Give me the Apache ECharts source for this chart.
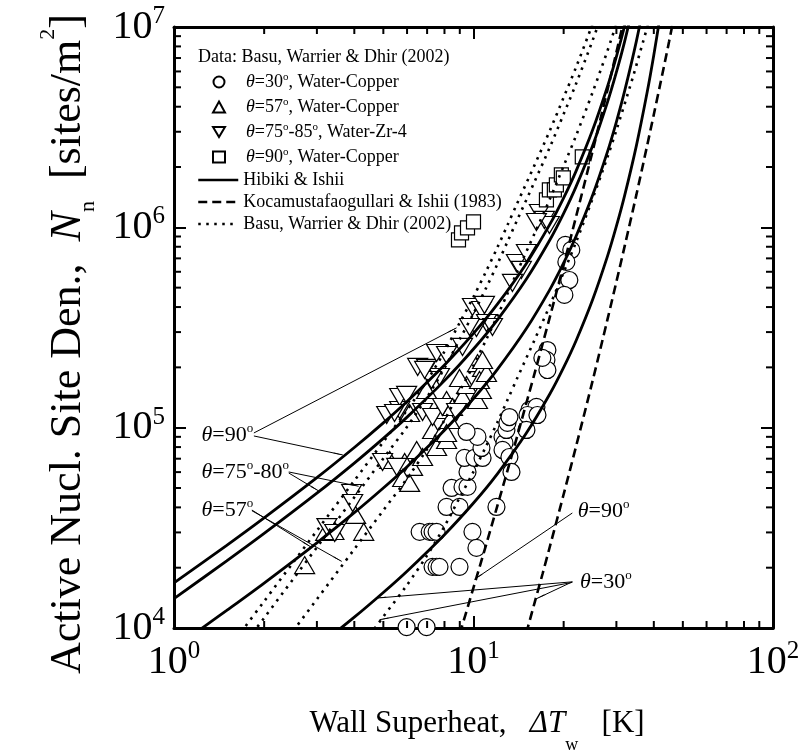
<!DOCTYPE html>
<html>
<head>
<meta charset="utf-8">
<script src="https://cdn.jsdelivr.net/npm/echarts@6/dist/echarts.min.js"></script>
<style>html,body{margin:0;padding:0;background:#fff}#c{width:805px;height:752px}</style>
</head>
<body>
<div id="c"></div>
<script>
const FONT = '"Liberation Serif", "Times New Roman", Times, serif';

// ---------- axes ----------
const X_MIN = 1, X_MAX = 100, Y_MIN = 1e4, Y_MAX = 1e7;
const xTickValues = [1, 10, 100];
const xTickSups = ['0', '1', '2'];
const yTickValues = [1e4, 1e5, 1e6, 1e7];
const yTickSups = ['4', '5', '6', '7'];
const xMinorTicks = [2, 3, 4, 5, 6, 7, 8, 9, 20, 30, 40, 50, 60, 70, 80, 90];
const yMinorTicks = [2e4, 3e4, 4e4, 5e4, 6e4, 7e4, 8e4, 9e4,
                     2e5, 3e5, 4e5, 5e5, 6e5, 7e5, 8e5, 9e5,
                     2e6, 3e6, 4e6, 5e6, 6e6, 7e6, 8e6, 9e6];

// ---------- names ----------
const dataTitle = 'Data: Basu, Warrier & Dhir (2002)';
const scatterNames = ['θ=30°, Water-Copper', 'θ=57°, Water-Copper', 'θ=75°-85°, Water-Zr-4', 'θ=90°, Water-Copper'];
const lineNames = ['Hibiki & Ishii', 'Kocamustafaogullari & Ishii (1983)', 'Basu, Warrier & Dhir (2002)'];

// ---------- data: measurements ----------
const circles30 = [
  [5.98,1.01e4],[6.97,1.01e4],
  [7.30,2.02e4],[7.53,2.02e4],[7.70,2.02e4],[8.98,2.02e4],
  [6.61,3.02e4],[7.14,3.02e4],[7.30,3.02e4],[7.53,3.02e4],[9.92,3.02e4],[10.23,2.51e4],
  [8.13,4.02e4],[8.98,4.02e4],[11.93,4.02e4],
  [8.45,5.0e4],[9.19,5.06e4],[9.55,5.06e4],[9.55,6.01e4],
  [9.33,7.06e4],[10.08,7.06e4],[10.72,7.06e4],[10.63,7.92e4],[10.31,8.99e4],[9.48,9.52e4],
  [12.50,8.99e4],[12.69,8.39e4],[12.50,7.74e4],[13.18,7.14e4],[13.39,6.01e4],
  [12.88,9.74e4],[12.98,1.056e5],[13.18,1.13e5],
  [15.37,1.226e5],[16.22,1.269e5],[15.14,1.157e5],[15.02,9.74e4],[16.35,1.157e5],
  [17.65,2.44e5],[17.52,2.18e5],[17.65,1.94e5],[16.98,2.23e5],
  [20.26,8.17e5],[21.21,7.71e5],[20.42,6.72e5],[20.89,5.46e5],[20.11,4.6e5]
];
const triUp57 = [
  [2.73,2.06e4],[3.21,3.02e4],[3.42,3.05e4],[4.04,3.67e4],[4.30,3.02e4],
  [5.25,6.90e4],[5.89,6.74e4],[6.26,6.37e4],[5.80,5.61e4],[6.46,7.74e4],[6.12,5.30e4],[6.76,7.14e4],
  [7.30,9.74e4],[7.53,8.01e4],[7.82,9.41e4],[8.13,8.68e4],[8.13,1.375e5],[7.88,1.226e5],[8.32,1.093e5],[8.13,9.41e4],[8.51,1.269e5],
  [9.19,1.423e5],[9.48,1.634e5],[10.31,1.375e5],[10.63,1.543e5],[10.31,2.10e5],[10.72,1.987e5],[10.47,1.73e5],[11.05,1.876e5],[10.72,2.178e5],
  [8.98,1.771e5],[6.97,1.543e5],[6.12,1.184e5]
];
const triDown75 = [
  [3.92,4.72e4],[3.95,4.21e4],[3.24,3.19e4],[3.44,2.98e4],[4.97,6.74e4],[5.54,6.37e4],
  [5.13,1.157e5],[5.67,1.226e5],[5.67,1.423e5],[5.45,1.184e5],[6.76,1.198e5],[7.30,1.13e5],[7.88,1.269e5],[8.78,1.198e5],
  [6.51,2.01e5],[6.97,1.987e5],[7.53,2.36e5],[8.13,2.307e5],[7.70,1.791e5],[7.24,1.73e5],[9.19,2.53e5],
  [9.92,4.0e5],[10.63,3.87e5],[11.05,3.33e5],[11.57,3.18e5],[10.23,3.146e5],[10.88,4.1e5],[9.70,3.18e5],
  [13.91,6.64e5],[14.45,6.13e5],[13.49,5.28e5],[15.02,7.45e5],[6.87,1.942e5],[5.98,1.457e5],
  [16.60,1.18e6],[17.25,1.089e6],[17.92,1.028e6],[16.22,1.064e6]
];
const squares90 = [
  [8.91,8.65e5],[9.12,9.38e5],[9.55,9.93e5],[10.0,1.064e6],
  [17.52,1.37e6],[17.92,1.537e6],[18.62,1.537e6],[18.91,1.628e6],[19.65,1.827e6],[19.95,1.765e6],[23.08,2.246e6]
];

// ---------- data: correlations ----------
const hibiki90 = [[1,1.678e4],[1.5,2.587e4],[2,3.547e4],[3,5.631e4],[4,7.961e4],[5,1.057e5],[6,1.351e5],[8,2.054e5],[10,2.955e5],[12,4.122e5],[15,6.585e5],[18,1.037e6],[20,1.404e6],[22,1.909e6],[25,3.066e6],[28,5.032e6],[30,7.115e6],[32,1.020e7],[35,1.803e7]];
const hibiki80 = [[1,1.403e4],[1.5,2.162e4],[2,2.964e4],[3,4.707e4],[4,6.654e4],[5,8.839e4],[6,1.129e5],[8,1.717e5],[10,2.470e5],[12,3.445e5],[15,5.504e5],[18,8.667e5],[20,1.174e6],[22,1.596e6],[25,2.562e6],[28,4.206e6],[30,5.947e6],[32,8.526e6],[35,1.507e7]];
const hibiki57 = [[1.2,9.63e3],[1.5,1.224e4],[2,1.677e4],[3,2.663e4],[4,3.765e4],[5,5.001e4],[6,6.389e4],[8,9.717e4],[10,1.398e5],[12,1.949e5],[15,3.114e5],[18,4.904e5],[20,6.642e5],[22,9.030e5],[25,1.450e6],[28,2.380e6],[30,3.365e6],[32,4.825e6],[35,8.528e6],[38,1.568e7]];
const hibiki30 = [[3,8.01e3],[4,1.133e4],[5,1.505e4],[6,1.922e4],[8,2.924e4],[10,4.206e4],[12,5.866e4],[15,9.371e4],[18,1.476e5],[20,1.999e5],[22,2.717e5],[25,4.363e5],[28,7.161e5],[30,1.013e6],[32,1.452e6],[35,2.566e6],[38,4.719e6],[40,7.251e6],[42,1.136e7]];
const koca90 = [[9,9.36e3],[10,1.59e4],[11,2.58e4],[12,4.05e4],[13,6.14e4],[14,9.10e4],[15,1.32e5],[16,1.87e5],[17,2.61e5],[18,3.58e5],[20,6.50e5],[22,1.13e6],[25,2.41e6],[28,4.84e6],[30,7.48e6],[32,1.13e7]];
const koca30 = [[15,9.41e3],[16,1.34e4],[17,1.86e4],[18,2.56e4],[20,4.65e4],[22,8.06e4],[25,1.72e5],[28,3.46e5],[30,5.35e5],[32,8.10e5],[35,1.46e6],[38,2.56e6],[40,3.66e6],[42,5.16e6],[45,8.49e6],[50,1.87e7]];
const basu90 = [[1.5,7.65e3],[1.7,9.83e3],[2,1.36e4],[2.5,2.125e4],[3,3.06e4],[4,5.44e4],[5,8.5e4],[6,1.224e5],[7,1.72e5],[8,2.40e5],[9,3.35e5],[10,4.5e5],[11,6.0e5],[12,7.9e5],[13,1.03e6],[14,1.32e6],[16,2.05e6],[18,3.05e6],[20,4.45e6],[22,6.3e6],[25,1.04e7],[28,1.67e7]];
const basu80 = [[1.7,8.12e3],[2,1.123e4],[2.5,1.755e4],[3,2.528e4],[4,4.49e4],[5,7.02e4],[6,1.011e5],[7,1.421e5],[8,1.982e5],[9,2.767e5],[10,3.717e5],[11,4.956e5],[12,6.525e5],[13,8.51e5],[14,1.090e6],[16,1.693e6],[18,2.519e6],[20,3.676e6],[22,5.204e6],[25,8.59e6],[28,1.379e7]];
const basu57 = [[2.5,9.67e3],[3,1.392e4],[4,2.475e4],[5,3.868e4],[6,5.57e4],[7,7.83e4],[8,1.092e5],[9,1.524e5],[10,2.048e5],[11,2.73e5],[12,3.595e5],[13,4.687e5],[14,6.01e5],[16,9.33e5],[18,1.388e6],[20,2.025e6],[22,2.867e6],[25,4.73e6],[28,7.60e6],[30,1.037e7]];
const basu30 = [[4.5,9.2e3],[5,1.139e4],[6,1.640e4],[7,2.305e4],[8,3.216e4],[9,4.489e4],[10,6.03e4],[11,8.04e4],[12,1.059e5],[13,1.380e5],[14,1.769e5],[16,2.747e5],[18,4.087e5],[20,5.963e5],[22,8.44e5],[25,1.394e6],[28,2.238e6],[30,3.055e6],[34,5.574e6],[37,8.65e6],[40,1.297e7]];

// ---------- annotations (data coordinates) ----------
const annotLabels = [
  { text: 'θ=90°', at: [1.23, 9.2e4] },
  { text: 'θ=75°-80°', at: [1.23, 6.01e4] },
  { text: 'θ=57°', at: [1.23, 3.88e4] },
  { text: 'θ=90°', at: [22.2, 3.84e4] },
  { text: 'θ=30°', at: [22.6, 1.70e4] }
];
const annotArrows = [
  [[1.848, 9.41e4], [8.78, 3.15e5]],
  [[1.848, 9.09e4], [3.66, 7.31e4]],
  [[2.416, 6.01e4], [4.136, 5.1e4]],
  [[2.416, 5.94e4], [3.043, 4.83e4]],
  [[1.820, 3.88e4], [2.862, 2.54e4]],
  [[1.820, 3.85e4], [3.631, 2.15e4]],
  [[21.38, 3.75e4], [10.08, 1.75e4]],
  [[21.38, 1.70e4], [16.22, 1.40e4]],
  [[21.38, 1.70e4], [4.75, 1.41e4]],
  [[21.38, 1.69e4], [4.86, 1.10e4]]
];

// ---------- helpers ----------
function greek(s) { return s.replace(/θ/g, '{i|θ}').replace(/°/g, '{s|o}'); }
function tickLabel(values, sups) {
  return function (v) {
    for (let i = 0; i < values.length; i++) {
      if (Math.abs(Math.log10(v) - Math.log10(values[i])) < 1e-6) return '{b|10}{s|' + sups[i] + '}';
    }
    return '';
  };
}
const tickRich = {
  b: { fontSize: 40, fontFamily: FONT, color: '#000', lineHeight: 46 },
  s: { fontSize: 25, fontFamily: FONT, color: '#000', lineHeight: 25, verticalAlign: 'top' }
};
const axisLineStyle = { show: true, onZero: false, lineStyle: { color: '#000', width: 3 } };
const majorTick = { show: true, inside: true, length: 12, lineStyle: { color: '#000', width: 2 } };
const MINOR_LEN = 7;

function curve(name, data, type) {
  return {
    type: 'line', name: name, data: data, symbol: 'none', showSymbol: false,
    smooth: 0.3, silent: true, z: 4, clip: true, color: '#000',
    itemStyle: { color: '#000' },
    lineStyle: { color: '#000', width: type === 'solid' ? 2.8 : 2.6, type: type }
  };
}
function pts(name, data, symbol, size) {
  return {
    type: 'scatter', name: name, data: data, symbol: symbol, symbolSize: size, z: 3, silent: true,
    itemStyle: { color: '#fff', borderColor: '#000', borderWidth: 1.2, opacity: 1 }
  };
}
const DOWN_TRI = 'path://M0,0L20,0L10,17Z';
const DASH = [9, 5];
const DOT = [2.5, 5.5];

const chart = echarts.init(document.getElementById('c'), null, { renderer: 'canvas' });
const option = {
  animation: false,
  backgroundColor: '#fff',
  textStyle: { fontFamily: FONT, color: '#000' },
  grid: { left: 174, right: 32, top: 27, bottom: 124, containLabel: false },
  xAxis: [
    { type: 'log', logBase: 10, min: X_MIN, max: X_MAX, position: 'bottom',
      axisLine: axisLineStyle, axisTick: majorTick, splitLine: { show: false },
      axisLabel: { margin: 11, formatter: tickLabel(xTickValues, xTickSups), rich: tickRich } },
    { type: 'log', logBase: 10, min: X_MIN, max: X_MAX, position: 'top',
      axisLine: axisLineStyle, axisTick: majorTick, splitLine: { show: false }, axisLabel: { show: false } }
  ],
  yAxis: [
    { type: 'log', logBase: 10, min: Y_MIN, max: Y_MAX, position: 'left',
      axisLine: axisLineStyle, axisTick: majorTick, splitLine: { show: false },
      axisLabel: { margin: 9, formatter: tickLabel(yTickValues, yTickSups), rich: tickRich } },
    { type: 'log', logBase: 10, min: Y_MIN, max: Y_MAX, position: 'right',
      axisLine: axisLineStyle, axisTick: majorTick, splitLine: { show: false }, axisLabel: { show: false } }
  ],
  legend: [
    { data: scatterNames, orient: 'vertical', left: 212, top: 72, padding: 0,
      itemWidth: 12, itemHeight: 11, itemGap: 5, selectedMode: false,
      formatter: function (n) { return '{sp| }' + greek(n); },
      textStyle: { fontFamily: FONT, fontSize: 18, color: '#000', lineHeight: 20,
        rich: { sp: { width: 16 },
                i: { fontFamily: FONT, fontSize: 18, fontStyle: 'italic', lineHeight: 20 },
                s: { fontFamily: FONT, fontSize: 11, lineHeight: 11, verticalAlign: 'top' } } } },
    { data: lineNames, orient: 'vertical', left: 197, top: 170, padding: 0,
      itemWidth: 40, itemHeight: 14, itemGap: 2, selectedMode: false,
      itemStyle: { color: 'rgba(0,0,0,0)', borderColor: 'rgba(0,0,0,0)', borderWidth: 0, opacity: 0 },
      lineStyle: { color: '#000', width: 2.5 },
      textStyle: { fontFamily: FONT, fontSize: 18, color: '#000', lineHeight: 20 } }
  ],
  graphic: [
    { type: 'text', x: 198, y: 57, silent: true,
      style: { text: dataTitle, fontSize: 18, fontFamily: FONT, fill: '#000', align: 'left', verticalAlign: 'middle' } },
    { type: 'text', x: 477, y: 724, silent: true,
      style: { text: '{t|Wall Superheat,}   {it|ΔT}{sub|w}   {t|[K]}', fontSize: 31, fontFamily: FONT, fill: '#000',
        align: 'center', verticalAlign: 'middle',
        rich: { t: { fontSize: 31, fontFamily: FONT, lineHeight: 60 },
                it: { fontSize: 31, fontFamily: FONT, fontStyle: 'italic', lineHeight: 60 },
                sub: { fontSize: 18, fontFamily: FONT, lineHeight: 18, verticalAlign: 'bottom' } } } },
    { type: 'text', x: 68, y: 344, rotation: Math.PI / 2, silent: true,
      style: { text: '{t|Active Nucl. Site Den.,}  {it|N}{sub|n}  {t|[sites/m}{sup|2}{t|]}', fontSize: 44, fontFamily: FONT, fill: '#000',
        align: 'center', verticalAlign: 'middle',
        rich: { t: { fontSize: 44, fontFamily: FONT, lineHeight: 62 },
                it: { fontSize: 44, fontFamily: FONT, fontStyle: 'italic', lineHeight: 62 },
                sub: { fontSize: 22, fontFamily: FONT, lineHeight: 22, verticalAlign: 'bottom' },
                sup: { fontSize: 22, fontFamily: FONT, lineHeight: 22, verticalAlign: 'top' } } } }
  ],
  series: [
    pts(scatterNames[0], circles30, 'circle', 17),
    pts(scatterNames[1], triUp57, 'triangle', [20, 17]),
    pts(scatterNames[2], triDown75, DOWN_TRI, [20, 17]),
    pts(scatterNames[3], squares90, 'rect', 14),
    curve(lineNames[0], hibiki90, 'solid'),
    curve(lineNames[0], hibiki80, 'solid'),
    curve(lineNames[0], hibiki57, 'solid'),
    curve(lineNames[0], hibiki30, 'solid'),
    curve(lineNames[1], koca90, DASH),
    curve(lineNames[1], koca30, DASH),
    curve(lineNames[2], basu90, DOT),
    curve(lineNames[2], basu80, DOT),
    curve(lineNames[2], basu57, DOT),
    curve(lineNames[2], basu30, DOT),
    { type: 'custom', name: 'xminor', silent: true, z: 6,
      data: xMinorTicks.map(v => [v, Y_MIN]), encode: { x: 0, y: 1 },
      renderItem: function (params, api) {
        const v = api.value(0);
        const b = api.coord([v, Y_MIN]), t = api.coord([v, Y_MAX]);
        const st = { stroke: '#000', lineWidth: 2 };
        return { type: 'group', children: [
          { type: 'line', shape: { x1: b[0], y1: b[1], x2: b[0], y2: b[1] - MINOR_LEN }, style: st },
          { type: 'line', shape: { x1: t[0], y1: t[1], x2: t[0], y2: t[1] + MINOR_LEN }, style: st } ] };
      } },
    { type: 'custom', name: 'yminor', silent: true, z: 6,
      data: yMinorTicks.map(v => [X_MIN, v]), encode: { x: 0, y: 1 },
      renderItem: function (params, api) {
        const v = api.value(1);
        const l = api.coord([X_MIN, v]), r = api.coord([X_MAX, v]);
        const st = { stroke: '#000', lineWidth: 2 };
        return { type: 'group', children: [
          { type: 'line', shape: { x1: l[0], y1: l[1], x2: l[0] + MINOR_LEN, y2: l[1] }, style: st },
          { type: 'line', shape: { x1: r[0], y1: r[1], x2: r[0] - MINOR_LEN, y2: r[1] }, style: st } ] };
      } },
    { type: 'scatter', name: 'annotations', data: [], silent: true, z: 7,
      markLine: { silent: true, symbol: ['none', 'arrow'], symbolSize: [1, 10], animation: false,
        label: { show: false }, emphasis: { disabled: true },
        lineStyle: { color: '#000', width: 1, type: 'solid' },
        data: annotArrows.map(a => [{ coord: a[0] }, { coord: a[1] }]) },
      markPoint: { silent: true, animation: false,
        data: annotLabels.map(l => ({ coord: l.at, symbol: 'circle', symbolSize: 1,
          itemStyle: { color: 'rgba(0,0,0,0)' },
          label: { show: true, position: 'right', distance: 0, formatter: greek(l.text),
            fontFamily: FONT, fontSize: 22, color: '#000', lineHeight: 26,
            rich: { i: { fontFamily: FONT, fontSize: 22, fontStyle: 'italic', lineHeight: 26, color: '#000' },
                    s: { fontFamily: FONT, fontSize: 13, lineHeight: 13, verticalAlign: 'top', color: '#000' } } } })) } }
  ]
};
chart.setOption(option);
</script>
</body>
</html>
